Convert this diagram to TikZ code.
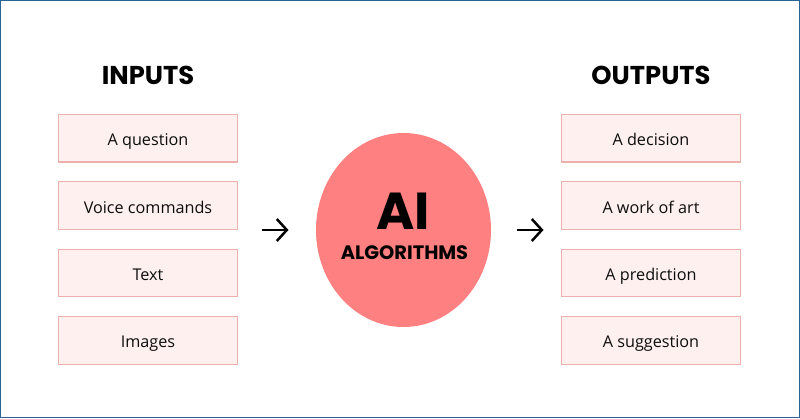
\documentclass[tikz,border=0pt]{standalone}
\usepackage{fontspec}
\setmainfont{Open Sans}
\newfontfamily\headfont{Poppins}
\usetikzlibrary{shapes.geometric,arrows.meta}
\definecolor{boxfill}{HTML}{FEF0EF}
\definecolor{boxline}{HTML}{EDB0AD}
\definecolor{blobfill}{HTML}{FF8080}
\definecolor{frameblue}{HTML}{2A6496}
\tikzset{
  itembox/.style={draw=boxline,fill=boxfill,line width=1.2pt,minimum width=179.5pt,minimum height=47.5pt,inner sep=0pt,font=\fontsize{16.2}{20}\selectfont,text=black!95,text height=15pt,text depth=0pt},
  headtext/.style={font=\headfont\bfseries\fontsize{25.8}{30}\selectfont,text=black,inner sep=0pt},
  flowarrow/.style={draw=black,line width=2.5pt,-{Straight Barb[length=10pt,width=22pt,line width=2.5pt]}},
}
\begin{document}
\begin{tikzpicture}[x=1pt,y=-1pt]
\useasboundingbox (0,0) rectangle (800,418);
\node[draw=frameblue,line width=1.6pt,minimum width=799pt,minimum height=417pt,inner sep=0pt] (frame) at (400,209) {};
\node[headtext] (inputs) at (148,75) {INPUTS};
\node[headtext] (outputs) at (651,75) {OUTPUTS};
\node[itembox] (i1) at (148,138.2) {A question};
\node[itembox] (i2) at (148,205.6) {Voice commands};
\node[itembox] (i3) at (148,273) {Text};
\node[itembox] (i4) at (148,340.4) {Images};
\node[itembox] (o1) at (651,138.2) {A decision};
\node[itembox] (o2) at (651,205.6) {A work of art};
\node[itembox] (o3) at (651,273) {A prediction};
\node[itembox] (o4) at (651,340.4) {A suggestion};
\node[ellipse,fill=blobfill,minimum width=175pt,minimum height=194pt,inner sep=0pt] (blob) at (403.5,230) {};
\node[font=\headfont\bfseries\fontsize{52}{58}\selectfont,inner sep=0pt] (ai) at (403.5,211) {AI};
\node[font=\headfont\bfseries\fontsize{19.4}{23}\selectfont,inner sep=0pt] (algo) at (404.5,253) {ALGORITHMS};
\coordinate (a1s) at (262,230);
\coordinate (a1e) at (288.5,230);
\coordinate (a2s) at (517,230);
\coordinate (a2e) at (543.5,230);
\draw[flowarrow] (a1s) -- (a1e);
\draw[flowarrow] (a2s) -- (a2e);
\end{tikzpicture}
\end{document}
